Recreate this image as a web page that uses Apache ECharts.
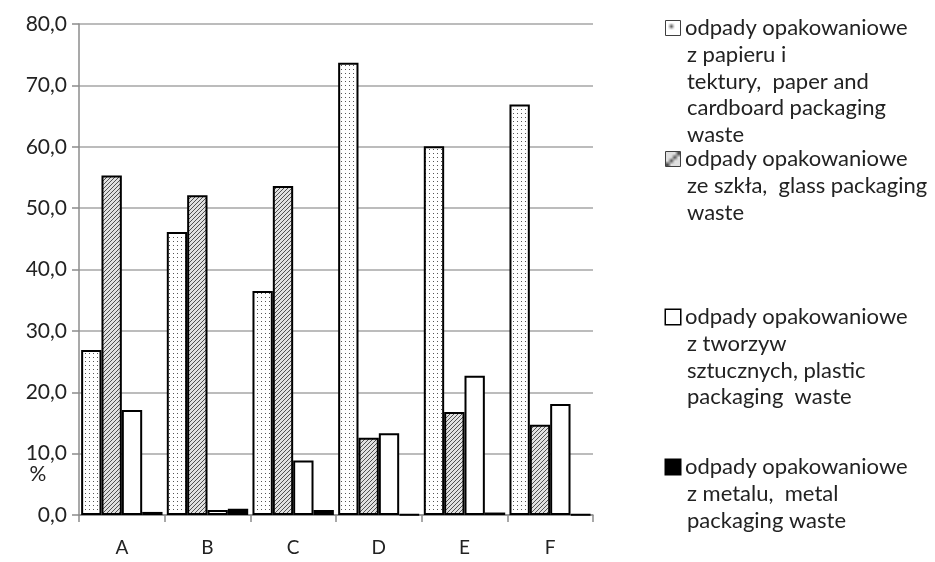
<!DOCTYPE html>
<html>
<head>
<meta charset="utf-8">
<script src="https://cdn.jsdelivr.net/npm/echarts@6/dist/echarts.min.js"></script>
<style>
  html, body { margin: 0; padding: 0; background: #fff; }
  #chart { width: 935px; height: 562px; }
</style>
</head>
<body>
<div id="chart"></div>
<script>
// Share of packaging waste by material, regions A–F (%)
const categories = ['A', 'B', 'C', 'D', 'E', 'F'];
const paper   = [26.9, 46.1, 36.5, 73.7, 60.1, 66.9];
const glass   = [55.3, 52.1, 53.6, 12.6, 16.8, 14.7];
const plastic = [17.1, 0.8, 8.9, 13.3, 22.7, 18.1];
const metal   = [0.5, 1.0, 0.8, 0.1, 0.4, 0.1];
const yTicks  = [0, 10, 20, 30, 40, 50, 60, 70, 80];

const seriesNames = [
  'odpady opakowaniowe z papieru i tektury,  paper and cardboard packaging waste',
  'odpady opakowaniowe ze szkła,  glass packaging waste',
  'odpady opakowaniowe z tworzyw sztucznych, plastic packaging  waste',
  'odpady opakowaniowe z metalu,  metal packaging waste'
];
const legendLines = [
  ['odpady opakowaniowe', 'z papieru i', 'tektury,  paper and', 'cardboard packaging', 'waste'],
  ['odpady opakowaniowe', 'ze szkła,  glass packaging', 'waste'],
  ['odpady opakowaniowe', 'z tworzyw', 'sztucznych, plastic', 'packaging  waste'],
  ['odpady opakowaniowe', 'z metalu,  metal', 'packaging waste']
];

// Fill patterns
function makeTile(draw) {
  const c = document.createElement('canvas');
  c.width = 4; c.height = 4;
  const ctx = c.getContext('2d');
  draw(ctx);
  return c;
}
const dotTile = makeTile(ctx => {
  ctx.fillStyle = '#ffffff'; ctx.fillRect(0, 0, 4, 4);
  ctx.fillStyle = '#555555'; ctx.fillRect(1, 1, 1, 1);
});
const hatchTile = makeTile(ctx => {
  ctx.fillStyle = '#e0e0e0'; ctx.fillRect(0, 0, 4, 4);
  ctx.fillStyle = '#505050';
  ctx.fillRect(0, 3, 1, 1); ctx.fillRect(1, 2, 1, 1);
  ctx.fillRect(2, 1, 1, 1); ctx.fillRect(3, 0, 1, 1);
});
const fills = [
  { image: dotTile, repeat: 'repeat' },
  { image: hatchTile, repeat: 'repeat' },
  '#ffffff',
  '#000000'
];
const boxFills = [{ image: dotTile }, { image: hatchTile }, '#ffffff', '#000000'];

const FONT = 'Lato';
const legendTops = [12, 143, 301, 451];

const chart = echarts.init(document.getElementById('chart'), null, { renderer: 'canvas' });

const legends = seriesNames.map((name, i) => ({
  data: [name],
  left: 656,
  top: legendTops[i],
  orient: 'vertical',
  icon: 'none',
  itemWidth: 0,
  itemGap: 0,
  selectedMode: false,
  formatter: () => legendLines[i].map((l, k) =>
    (k === 0 ? '{box|}{gap|}' : '{sp|}') + '{t|' + l + '}').join('\n'),
  textStyle: {
    rich: {
      t: { fontFamily: FONT, fontSize: 22, color: '#222', lineHeight: 26.8 },
      sp: { width: 21 },
      gap: { width: 5 },
      box: {
        width: 14, height: 14,
        backgroundColor: boxFills[i],
        borderColor: '#000', borderWidth: 1.5
      }
    }
  }
}));

const seriesData = [paper, glass, plastic, metal];

chart.setOption({
  animation: false,
  backgroundColor: '#ffffff',
  grid: { left: 79, right: 342, top: 24, bottom: 47, containLabel: false },
  legend: legends,
  xAxis: {
    type: 'category',
    data: categories,
    axisLine: { lineStyle: { color: '#8c8c8c', width: 1.5 } },
    axisTick: { show: true, length: 7, lineStyle: { color: '#8c8c8c', width: 1.5 } },
    axisLabel: { fontFamily: FONT, fontSize: 19, color: '#222', margin: 23 }
  },
  yAxis: {
    type: 'value',
    min: yTicks[0],
    max: yTicks[yTicks.length - 1],
    interval: 10,
    axisLine: { show: true, lineStyle: { color: '#8c8c8c', width: 1.5 } },
    axisTick: { show: true, length: 7, lineStyle: { color: '#8c8c8c', width: 1.5 } },
    splitLine: { lineStyle: { color: '#a6a6a6', width: 1.5 } },
    axisLabel: {
      fontFamily: FONT, fontSize: 21, color: '#222', margin: 12,
      formatter: v => v.toFixed(1).replace('.', ',')
    },
    name: '%',
    nameLocation: 'start',
    nameGap: -42,
    nameTextStyle: {
      fontFamily: FONT, fontSize: 21, color: '#222',
      align: 'center', verticalAlign: 'middle', padding: [0, 82, 0, 0]
    }
  },
  series: seriesNames.map((name, i) => ({
    name,
    type: 'bar',
    data: seriesData[i],
    barGap: '0%',
    barCategoryGap: '5%',
    itemStyle: { color: fills[i], borderColor: '#000', borderWidth: 2 }
  }))
});
</script>
</body>
</html>
